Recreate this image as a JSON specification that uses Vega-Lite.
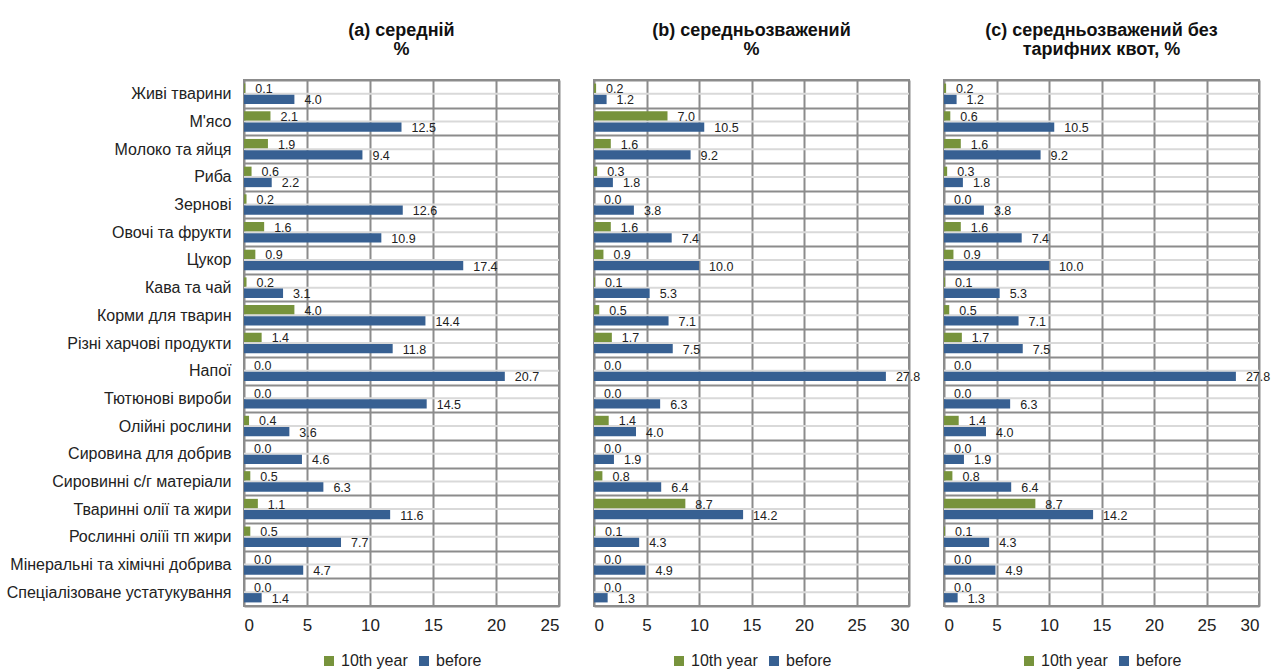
{
  "$schema": "https://vega.github.io/schema/vega-lite/v6.json",
  "padding": {"left": 5, "top": 21, "right": 0, "bottom": 0},
  "datasets": {
    "d": [
      {"p":"a","c":"Живі тварини","s":"10th year","v":0.1},{"p":"a","c":"Живі тварини","s":"before","v":4.0},
      {"p":"a","c":"М'ясо","s":"10th year","v":2.1},{"p":"a","c":"М'ясо","s":"before","v":12.5},
      {"p":"a","c":"Молоко та яйця","s":"10th year","v":1.9},{"p":"a","c":"Молоко та яйця","s":"before","v":9.4},
      {"p":"a","c":"Риба","s":"10th year","v":0.6},{"p":"a","c":"Риба","s":"before","v":2.2},
      {"p":"a","c":"Зернові","s":"10th year","v":0.2},{"p":"a","c":"Зернові","s":"before","v":12.6},
      {"p":"a","c":"Овочі та фрукти","s":"10th year","v":1.6},{"p":"a","c":"Овочі та фрукти","s":"before","v":10.9},
      {"p":"a","c":"Цукор","s":"10th year","v":0.9},{"p":"a","c":"Цукор","s":"before","v":17.4},
      {"p":"a","c":"Кава та чай","s":"10th year","v":0.2},{"p":"a","c":"Кава та чай","s":"before","v":3.1},
      {"p":"a","c":"Корми для тварин","s":"10th year","v":4.0},{"p":"a","c":"Корми для тварин","s":"before","v":14.4},
      {"p":"a","c":"Різні харчові продукти","s":"10th year","v":1.4},{"p":"a","c":"Різні харчові продукти","s":"before","v":11.8},
      {"p":"a","c":"Напої","s":"10th year","v":0.0},{"p":"a","c":"Напої","s":"before","v":20.7},
      {"p":"a","c":"Тютюнові вироби","s":"10th year","v":0.0},{"p":"a","c":"Тютюнові вироби","s":"before","v":14.5},
      {"p":"a","c":"Олійні рослини","s":"10th year","v":0.4},{"p":"a","c":"Олійні рослини","s":"before","v":3.6},
      {"p":"a","c":"Сировина для добрив","s":"10th year","v":0.0},{"p":"a","c":"Сировина для добрив","s":"before","v":4.6},
      {"p":"a","c":"Сировинні с/г матеріали","s":"10th year","v":0.5},{"p":"a","c":"Сировинні с/г матеріали","s":"before","v":6.3},
      {"p":"a","c":"Тваринні олії та жири","s":"10th year","v":1.1},{"p":"a","c":"Тваринні олії та жири","s":"before","v":11.6},
      {"p":"a","c":"Рослинні оліїі тп жири","s":"10th year","v":0.5},{"p":"a","c":"Рослинні оліїі тп жири","s":"before","v":7.7},
      {"p":"a","c":"Мінеральні та хімічні добрива","s":"10th year","v":0.0},{"p":"a","c":"Мінеральні та хімічні добрива","s":"before","v":4.7},
      {"p":"a","c":"Спеціалізоване устатукування","s":"10th year","v":0.0},{"p":"a","c":"Спеціалізоване устатукування","s":"before","v":1.4},

      {"p":"b","c":"Живі тварини","s":"10th year","v":0.2},{"p":"b","c":"Живі тварини","s":"before","v":1.2},
      {"p":"b","c":"М'ясо","s":"10th year","v":7.0},{"p":"b","c":"М'ясо","s":"before","v":10.5},
      {"p":"b","c":"Молоко та яйця","s":"10th year","v":1.6},{"p":"b","c":"Молоко та яйця","s":"before","v":9.2},
      {"p":"b","c":"Риба","s":"10th year","v":0.3},{"p":"b","c":"Риба","s":"before","v":1.8},
      {"p":"b","c":"Зернові","s":"10th year","v":0.0},{"p":"b","c":"Зернові","s":"before","v":3.8},
      {"p":"b","c":"Овочі та фрукти","s":"10th year","v":1.6},{"p":"b","c":"Овочі та фрукти","s":"before","v":7.4},
      {"p":"b","c":"Цукор","s":"10th year","v":0.9},{"p":"b","c":"Цукор","s":"before","v":10.0},
      {"p":"b","c":"Кава та чай","s":"10th year","v":0.1},{"p":"b","c":"Кава та чай","s":"before","v":5.3},
      {"p":"b","c":"Корми для тварин","s":"10th year","v":0.5},{"p":"b","c":"Корми для тварин","s":"before","v":7.1},
      {"p":"b","c":"Різні харчові продукти","s":"10th year","v":1.7},{"p":"b","c":"Різні харчові продукти","s":"before","v":7.5},
      {"p":"b","c":"Напої","s":"10th year","v":0.0},{"p":"b","c":"Напої","s":"before","v":27.8},
      {"p":"b","c":"Тютюнові вироби","s":"10th year","v":0.0},{"p":"b","c":"Тютюнові вироби","s":"before","v":6.3},
      {"p":"b","c":"Олійні рослини","s":"10th year","v":1.4},{"p":"b","c":"Олійні рослини","s":"before","v":4.0},
      {"p":"b","c":"Сировина для добрив","s":"10th year","v":0.0},{"p":"b","c":"Сировина для добрив","s":"before","v":1.9},
      {"p":"b","c":"Сировинні с/г матеріали","s":"10th year","v":0.8},{"p":"b","c":"Сировинні с/г матеріали","s":"before","v":6.4},
      {"p":"b","c":"Тваринні олії та жири","s":"10th year","v":8.7},{"p":"b","c":"Тваринні олії та жири","s":"before","v":14.2},
      {"p":"b","c":"Рослинні оліїі тп жири","s":"10th year","v":0.1},{"p":"b","c":"Рослинні оліїі тп жири","s":"before","v":4.3},
      {"p":"b","c":"Мінеральні та хімічні добрива","s":"10th year","v":0.0},{"p":"b","c":"Мінеральні та хімічні добрива","s":"before","v":4.9},
      {"p":"b","c":"Спеціалізоване устатукування","s":"10th year","v":0.0},{"p":"b","c":"Спеціалізоване устатукування","s":"before","v":1.3},

      {"p":"c","c":"Живі тварини","s":"10th year","v":0.2},{"p":"c","c":"Живі тварини","s":"before","v":1.2},
      {"p":"c","c":"М'ясо","s":"10th year","v":0.6},{"p":"c","c":"М'ясо","s":"before","v":10.5},
      {"p":"c","c":"Молоко та яйця","s":"10th year","v":1.6},{"p":"c","c":"Молоко та яйця","s":"before","v":9.2},
      {"p":"c","c":"Риба","s":"10th year","v":0.3},{"p":"c","c":"Риба","s":"before","v":1.8},
      {"p":"c","c":"Зернові","s":"10th year","v":0.0},{"p":"c","c":"Зернові","s":"before","v":3.8},
      {"p":"c","c":"Овочі та фрукти","s":"10th year","v":1.6},{"p":"c","c":"Овочі та фрукти","s":"before","v":7.4},
      {"p":"c","c":"Цукор","s":"10th year","v":0.9},{"p":"c","c":"Цукор","s":"before","v":10.0},
      {"p":"c","c":"Кава та чай","s":"10th year","v":0.1},{"p":"c","c":"Кава та чай","s":"before","v":5.3},
      {"p":"c","c":"Корми для тварин","s":"10th year","v":0.5},{"p":"c","c":"Корми для тварин","s":"before","v":7.1},
      {"p":"c","c":"Різні харчові продукти","s":"10th year","v":1.7},{"p":"c","c":"Різні харчові продукти","s":"before","v":7.5},
      {"p":"c","c":"Напої","s":"10th year","v":0.0},{"p":"c","c":"Напої","s":"before","v":27.8},
      {"p":"c","c":"Тютюнові вироби","s":"10th year","v":0.0},{"p":"c","c":"Тютюнові вироби","s":"before","v":6.3},
      {"p":"c","c":"Олійні рослини","s":"10th year","v":1.4},{"p":"c","c":"Олійні рослини","s":"before","v":4.0},
      {"p":"c","c":"Сировина для добрив","s":"10th year","v":0.0},{"p":"c","c":"Сировина для добрив","s":"before","v":1.9},
      {"p":"c","c":"Сировинні с/г матеріали","s":"10th year","v":0.8},{"p":"c","c":"Сировинні с/г матеріали","s":"before","v":6.4},
      {"p":"c","c":"Тваринні олії та жири","s":"10th year","v":8.7},{"p":"c","c":"Тваринні олії та жири","s":"before","v":14.2},
      {"p":"c","c":"Рослинні оліїі тп жири","s":"10th year","v":0.1},{"p":"c","c":"Рослинні оліїі тп жири","s":"before","v":4.3},
      {"p":"c","c":"Мінеральні та хімічні добрива","s":"10th year","v":0.0},{"p":"c","c":"Мінеральні та хімічні добрива","s":"before","v":4.9},
      {"p":"c","c":"Спеціалізоване устатукування","s":"10th year","v":0.0},{"p":"c","c":"Спеціалізоване устатукування","s":"before","v":1.3}
    ]
  },
  "data": {"name": "d"},
  "spacing": 35,
  "bounds": "flush",
  "resolve": {"legend": {"color": "independent"}},
  "hconcat": [
    {
      "width": 315, "height": 526,
      "title": {"text": ["(a) середній", "%"], "dy": 8},
      "transform": [{"filter": "datum.p == 'a'"}],
      "encoding": {
        "y": {"field": "c", "type": "nominal", "sort": null, "title": null,
              "scale": {"paddingInner": 0, "paddingOuter": 0},
              "axis": {"tickBand": "extent", "grid": true, "gridColor": "#8c8c8c", "gridWidth": 2, "ticks": false, "domain": false,
                       "labelPadding": 13, "labelFontSize": 16, "labelColor": "#222222", "labelLimit": 400}}
      },
      "layer": [
        {"transform": [{"filter": "datum.s == 'before'"}], "mark": {"type": "rule", "color": "#d9d9d9", "strokeWidth": 2}, "encoding": {}},
        {"mark": {"type": "bar"},
         "encoding": {
           "x": {"field": "v", "type": "quantitative", "title": null, "scale": {"domain": [0, 25], "nice": false},
                 "axis": {"values": [0, 5, 10, 15, 20, 25], "grid": true, "gridColor": "#8c8c8c", "gridWidth": 2, "ticks": false, "domain": false, "labelPadding": 11, "labelFontSize": 17, "labelColor": "#222222"}},
           "yOffset": {"field": "s", "type": "nominal", "scale": {"paddingInner": 0.17, "paddingOuter": 0.32}},
           "color": {"field": "s", "type": "nominal", "scale": {"domain": ["10th year", "before"], "range": ["#77933C", "#376092"]},
                     "legend": {"orient": "bottom", "direction": "horizontal", "title": null, "symbolType": "square", "symbolSize": 100, "labelFontSize": 16, "labelColor": "#222222", "columnPadding": 8, "labelOffset": 4, "symbolStrokeWidth": 0, "offset": 20}}
         }},
        {"mark": {"type": "text", "align": "left", "baseline": "middle", "dx": 10, "dy": 1, "fontSize": 12.5, "color": "#222222"},
         "encoding": {
           "x": {"field": "v", "type": "quantitative"},
           "yOffset": {"field": "s", "type": "nominal"},
           "text": {"field": "v", "type": "quantitative", "format": ".1f"}
         }}
      ]
    },
    {
      "width": 315, "height": 526,
      "title": {"text": ["(b) середньозважений", "%"]},
      "transform": [{"filter": "datum.p == 'b'"}],
      "encoding": {
        "y": {"field": "c", "type": "nominal", "sort": null, "title": null,
              "scale": {"paddingInner": 0, "paddingOuter": 0},
              "axis": {"tickBand": "extent", "grid": true, "gridColor": "#8c8c8c", "gridWidth": 2, "ticks": false, "domain": false, "labels": false}}
      },
      "layer": [
        {"transform": [{"filter": "datum.s == 'before'"}], "mark": {"type": "rule", "color": "#d9d9d9", "strokeWidth": 2}, "encoding": {}},
        {"mark": {"type": "bar"},
         "encoding": {
           "x": {"field": "v", "type": "quantitative", "title": null, "scale": {"domain": [0, 30], "nice": false},
                 "axis": {"values": [0, 5, 10, 15, 20, 25, 30], "grid": true, "gridColor": "#8c8c8c", "gridWidth": 2, "ticks": false, "domain": false, "labelPadding": 11, "labelFontSize": 17, "labelColor": "#222222"}},
           "yOffset": {"field": "s", "type": "nominal", "scale": {"paddingInner": 0.17, "paddingOuter": 0.32}},
           "color": {"field": "s", "type": "nominal", "scale": {"domain": ["10th year", "before"], "range": ["#77933C", "#376092"]},
                     "legend": {"orient": "bottom", "direction": "horizontal", "title": null, "symbolType": "square", "symbolSize": 100, "labelFontSize": 16, "labelColor": "#222222", "columnPadding": 8, "labelOffset": 4, "symbolStrokeWidth": 0, "offset": 20}}
         }},
        {"mark": {"type": "text", "align": "left", "baseline": "middle", "dx": 10, "dy": 1, "fontSize": 12.5, "color": "#222222"},
         "encoding": {
           "x": {"field": "v", "type": "quantitative"},
           "yOffset": {"field": "s", "type": "nominal"},
           "text": {"field": "v", "type": "quantitative", "format": ".1f"}
         }}
      ]
    },
    {
      "width": 315, "height": 526,
      "title": {"text": ["(c) середньозважений без", "тарифних квот, %"]},
      "transform": [{"filter": "datum.p == 'c'"}],
      "encoding": {
        "y": {"field": "c", "type": "nominal", "sort": null, "title": null,
              "scale": {"paddingInner": 0, "paddingOuter": 0},
              "axis": {"tickBand": "extent", "grid": true, "gridColor": "#8c8c8c", "gridWidth": 2, "ticks": false, "domain": false, "labels": false}}
      },
      "layer": [
        {"transform": [{"filter": "datum.s == 'before'"}], "mark": {"type": "rule", "color": "#d9d9d9", "strokeWidth": 2}, "encoding": {}},
        {"mark": {"type": "bar"},
         "encoding": {
           "x": {"field": "v", "type": "quantitative", "title": null, "scale": {"domain": [0, 30], "nice": false},
                 "axis": {"values": [0, 5, 10, 15, 20, 25, 30], "grid": true, "gridColor": "#8c8c8c", "gridWidth": 2, "ticks": false, "domain": false, "labelPadding": 11, "labelFontSize": 17, "labelColor": "#222222"}},
           "yOffset": {"field": "s", "type": "nominal", "scale": {"paddingInner": 0.17, "paddingOuter": 0.32}},
           "color": {"field": "s", "type": "nominal", "scale": {"domain": ["10th year", "before"], "range": ["#77933C", "#376092"]},
                     "legend": {"orient": "bottom", "direction": "horizontal", "title": null, "symbolType": "square", "symbolSize": 100, "labelFontSize": 16, "labelColor": "#222222", "columnPadding": 8, "labelOffset": 4, "symbolStrokeWidth": 0, "offset": 20}}
         }},
        {"mark": {"type": "text", "align": "left", "baseline": "middle", "dx": 10, "dy": 1, "fontSize": 12.5, "color": "#222222"},
         "encoding": {
           "x": {"field": "v", "type": "quantitative"},
           "yOffset": {"field": "s", "type": "nominal"},
           "text": {"field": "v", "type": "quantitative", "format": ".1f"}
         }}
      ]
    }
  ],
  "config": {
    "font": "Liberation Sans",
    "view": {"stroke": "#8c8c8c", "strokeWidth": 2},
    "title": {"fontSize": 18, "fontWeight": "bold", "anchor": "middle", "color": "#111111", "offset": 21, "lineHeight": 19, "frame": "group"},
    "legend": {"layout": {"bottom": {"anchor": "middle"}}}
  }
}
